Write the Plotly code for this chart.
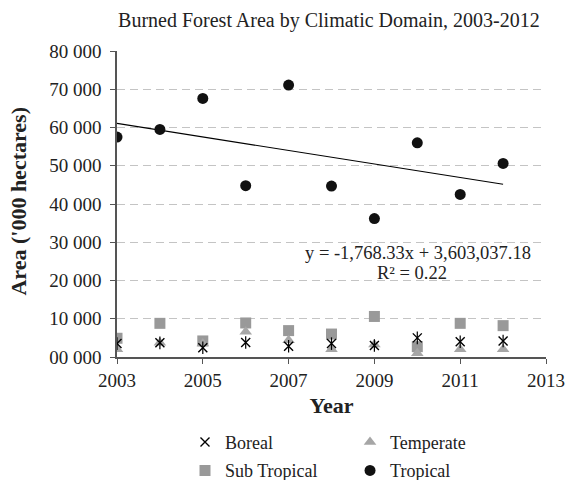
import plotly.graph_objects as go

years = [2003, 2004, 2005, 2006, 2007, 2008, 2009, 2010, 2011, 2012]
boreal = [3500, 3700, 2400, 3800, 2800, 3500, 3000, 5000, 4000, 4200]
temperate = [2000, 3700, 3500, 6600, 4400, 2000, 3300, 1000, 2000, 2000]
sub_tropical = [4900, 8800, 4200, 8900, 6900, 6000, 10600, 2700, 8800, 8200]
tropical = [57500, 59500, 67600, 44800, 71100, 44700, 36200, 56000, 42500, 50600]

# linear trend for the tropical series
slope = -1768.33
intercept = 3603037.18
r_squared = 0.22

y_ticks = [0, 10000, 20000, 30000, 40000, 50000, 60000, 70000, 80000]
y_tick_text = ["00 000", "10 000", "20 000", "30 000", "40 000",
               "50 000", "60 000", "70 000", "80 000"]
x_ticks = [2003, 2005, 2007, 2009, 2011, 2013]

serif = "Liberation Serif, Times New Roman, serif"
ink = "#222222"

fig = go.Figure()

fig.add_trace(go.Scatter(
    x=[years[0], years[-1]],
    y=[slope * years[0] + intercept, slope * years[-1] + intercept],
    mode="lines", line=dict(color="#000000", width=1.2),
    showlegend=False, hoverinfo="skip"))

fig.add_trace(go.Scatter(
    x=years, y=sub_tropical, name="Sub Tropical", mode="markers",
    marker=dict(symbol="square", size=11, color="#999999"),
    legend="legend", legendgroup="sub", legendrank=2))
fig.add_trace(go.Scatter(
    x=years, y=temperate, name="Temperate", mode="markers",
    marker=dict(symbol="triangle-up", size=11, color="#a6a6a6"),
    legend="legend2", legendgroup="temp", legendrank=1))
# star marker: an x with a vertical stroke through it
fig.add_trace(go.Scatter(
    x=years, y=boreal, name="Boreal", mode="markers",
    marker=dict(symbol="x-thin", size=9, color="#000000",
                line=dict(width=1.4, color="#000000")),
    legend="legend", legendgroup="bor", legendrank=1))
fig.add_trace(go.Scatter(
    x=years, y=boreal, name="Boreal", mode="markers",
    marker=dict(symbol="line-ns", size=9, color="#000000",
                line=dict(width=1.2, color="#000000")),
    showlegend=False, legendgroup="bor", hoverinfo="skip"))
fig.add_trace(go.Scatter(
    x=years, y=tropical, name="Tropical", mode="markers",
    marker=dict(symbol="circle", size=11, color="#111111"),
    legend="legend2", legendgroup="trop", legendrank=2))

fig.add_annotation(
    x=2010.02, y=27200, xref="x", yref="y",
    text=f"y = {slope:,.2f}x + {intercept:,.2f}",
    showarrow=False, font=dict(family=serif, size=18.5, color=ink))
fig.add_annotation(
    x=2009.88, y=22000, xref="x", yref="y",
    text=f"R² = {r_squared:.2f}",
    showarrow=False, font=dict(family=serif, size=18.5, color=ink))

# vertical axis title
fig.add_annotation(
    x=-0.2284, y=0.508, xref="paper", yref="paper",
    text="<b>Area ('000 hectares)</b>", textangle=-90,
    showarrow=False, xanchor="center", yanchor="middle",
    font=dict(family=serif, size=22, color=ink))

legend_font = dict(family=serif, size=18, color=ink)

fig.update_layout(
    width=571, height=480,
    margin=dict(l=117, r=25, t=51, b=123, autoexpand=False),
    paper_bgcolor="white", plot_bgcolor="white",
    font=dict(family=serif, color=ink),
    showlegend=True,
    title=dict(text="Burned Forest Area by Climatic Domain, 2003-2012",
               x=0.576, xanchor="center", y=0.958, yanchor="middle",
               xref="container", yref="container",
               font=dict(family=serif, size=20, color=ink)),
    xaxis=dict(range=[2003, 2013], tickvals=x_ticks, showgrid=False,
               showline=True, linecolor="#555555", linewidth=1.5,
               ticks="outside", ticklen=5, tickcolor="#555555",
               tickfont=dict(family=serif, size=19, color=ink),
               zeroline=False, automargin=True,
               title=dict(text="<b>Year</b>", standoff=8,
                          font=dict(family=serif, size=22, color=ink))),
    yaxis=dict(range=[0, 80000], tickvals=y_ticks, ticktext=y_tick_text,
               showgrid=True, gridcolor="#c4c4c4", griddash="8px,5px",
               gridwidth=1,
               showline=True, linecolor="#555555", linewidth=1.5,
               ticks="outside", ticklen=5, tickcolor="#555555",
               ticklabelstandoff=5,
               tickfont=dict(family=serif, size=19, color=ink),
               zeroline=False, automargin=True),
    legend=dict(x=0.324, y=0.117, xref="container", yref="container",
                xanchor="left", yanchor="top", orientation="v",
                tracegroupgap=2, font=legend_font, itemwidth=30,
                bgcolor="rgba(0,0,0,0)"),
    legend2=dict(x=0.613, y=0.117, xref="container", yref="container",
                 xanchor="left", yanchor="top", orientation="v",
                 tracegroupgap=2, font=legend_font, itemwidth=30,
                 bgcolor="rgba(0,0,0,0)"),
)

fig.write_html("out.html")
